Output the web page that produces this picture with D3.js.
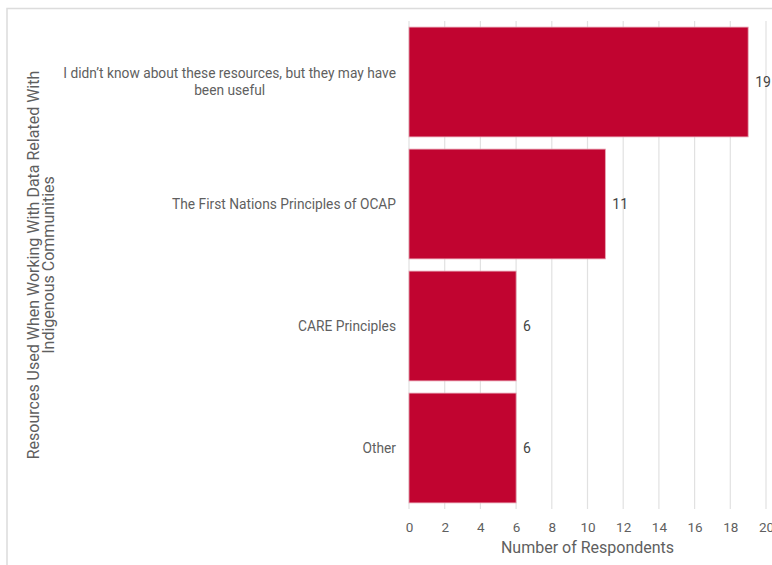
<!DOCTYPE html>
<html>
<head>
<meta charset="utf-8">
<script src="https://cdn.jsdelivr.net/npm/d3@7/dist/d3.min.js"></script>
<style>
  html, body { margin: 0; padding: 0; background: #fff; }
  svg { display: block; font-family: Roboto, "Noto Sans", sans-serif; }
</style>
</head>
<body>
<svg id="chart" width="772" height="565"></svg>
<script>
// Survey responses: resources used when working with Indigenous data
const categories = [
  "I didn\u2019t know about these resources, but they may have been useful",
  "The First Nations Principles of OCAP",
  "CARE Principles",
  "Other"
];
const respondents = [19, 11, 6, 6];
const xTicks = [0, 2, 4, 6, 8, 10, 12, 14, 16, 18, 20];
const xTitle = "Number of Respondents";
const yTitleLines = ["Resources Used When Working With Data Related With", "Indigenous Communities"];

const svg = d3.select("#chart");
const W = 772, H = 565;
const margin = { left: 409, right: 6, top: 21, bottom: 56 };
const textColor = "#5f5f5f";
const barColor = "#c10430";

// panel frame
svg.append("path")
  .attr("d", `M7,${H} V8.5 H${W}`)
  .attr("fill", "none").attr("stroke", "#dcdcdc").attr("stroke-width", 1.5);

const x = d3.scaleLinear().domain([0, 20]).range([margin.left, 766]);
const y = d3.scaleBand().domain(categories)
  .range([margin.top, H - margin.bottom])
  .paddingInner(0.1).paddingOuter(0.05);

// vertical gridlines
svg.append("g").selectAll("line").data(xTicks).join("line")
  .attr("x1", d => x(d)).attr("x2", d => x(d))
  .attr("y1", margin.top).attr("y2", H - margin.bottom)
  .attr("stroke", "#e1e1e1").attr("stroke-width", 1.2);

// bars
svg.append("g").selectAll("rect").data(categories).join("rect")
  .attr("x", x(0))
  .attr("y", d => y(d))
  .attr("width", (d, i) => x(respondents[i]) - x(0))
  .attr("height", y.bandwidth())
  .attr("fill", barColor)
  .attr("stroke", "#e7a0b0").attr("stroke-width", 0.8);

// value labels
svg.append("g").selectAll("text").data(categories).join("text")
  .attr("x", (d, i) => x(respondents[i]) + 7)
  .attr("y", d => y(d) + y.bandwidth() / 2)
  .attr("dy", "0.35em")
  .attr("font-size", 14).attr("fill", "#444")
  .text((d, i) => respondents[i]);

// x axis
const xAxis = d3.axisBottom(x).tickValues(xTicks).tickSize(0).tickPadding(10);
const gx = svg.append("g").attr("transform", `translate(0,${H - margin.bottom + 3})`).call(xAxis);
gx.select(".domain").remove();
gx.selectAll("text").attr("font-size", 13.5).attr("fill", textColor)
  .attr("font-family", "Roboto, sans-serif");

svg.append("text")
  .attr("x", x(10)).attr("y", 553)
  .attr("text-anchor", "middle")
  .attr("font-size", 16).attr("fill", textColor)
  .text(xTitle);

// category labels, wrapped and centred within a right-aligned block
const labelSize = 13.75;
const maxLabelWidth = 340;
const labelRight = 396;
const lineHeight = 17;
categories.forEach(cat => {
  const g = svg.append("g");
  const words = cat.split(" ");
  const lines = [];
  let current = [];
  const probe = g.append("text").attr("font-size", labelSize);
  words.forEach(w => {
    const trial = current.concat(w).join(" ");
    probe.text(trial);
    if (probe.node().getComputedTextLength() > maxLabelWidth && current.length) {
      lines.push(current.join(" "));
      current = [w];
    } else {
      current.push(w);
    }
  });
  lines.push(current.join(" "));
  const widths = lines.map(l => { probe.text(l); return probe.node().getComputedTextLength(); });
  probe.remove();
  const blockW = d3.max(widths);
  const cx = labelRight - blockW / 2;
  const cy = y(cat) + y.bandwidth() / 2;
  const t = g.append("text")
    .attr("text-anchor", "middle")
    .attr("font-size", labelSize).attr("fill", textColor);
  lines.forEach((l, i) => {
    t.append("tspan")
      .attr("x", cx)
      .attr("y", cy + (i - (lines.length - 1) / 2) * lineHeight)
      .attr("dy", "0.35em")
      .text(l);
  });
});

// y axis title
const yt = svg.append("text")
  .attr("transform", `translate(33,265) rotate(-90)`)
  .attr("text-anchor", "middle")
  .attr("font-size", 16).attr("fill", textColor);
yTitleLines.forEach((l, i) => {
  yt.append("tspan").attr("x", 0).attr("y", i * 15 + 6).text(l);
});
</script>
</body>
</html>
